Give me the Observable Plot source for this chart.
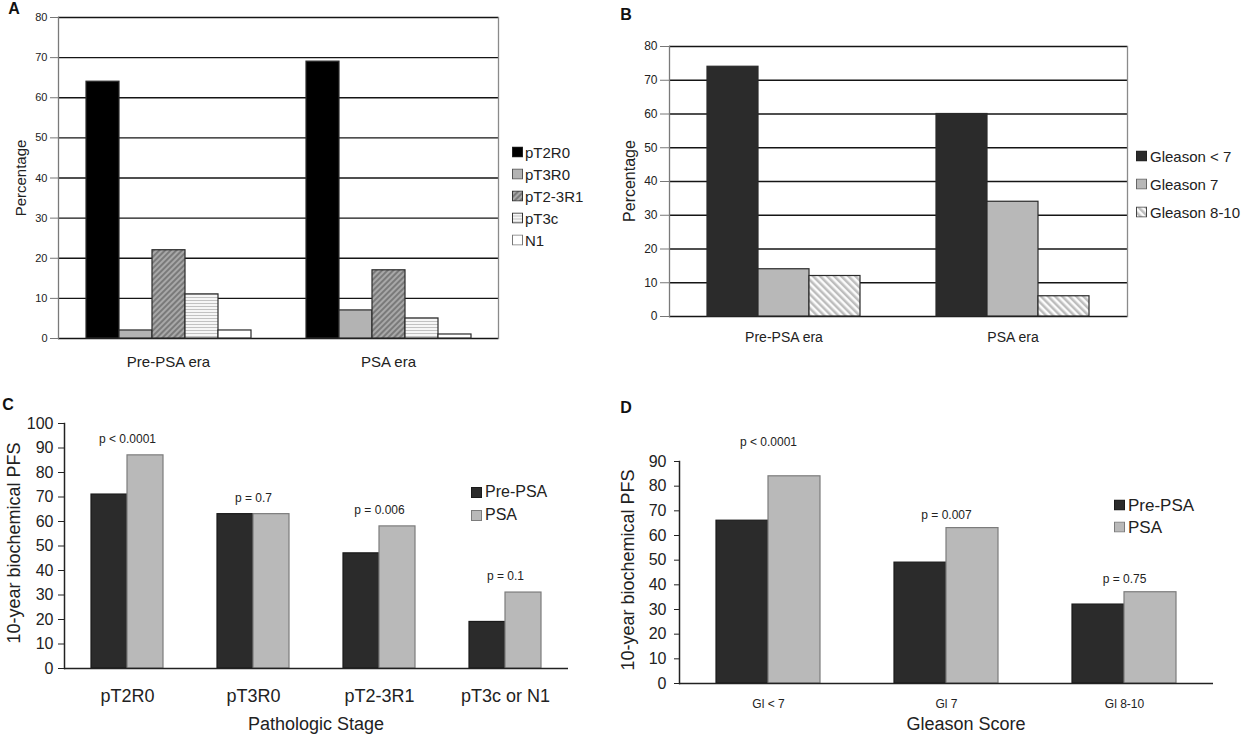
<!DOCTYPE html>
<html><head><meta charset="utf-8">
<script src="https://cdn.jsdelivr.net/npm/d3@7"></script>
<script src="https://cdn.jsdelivr.net/npm/@observablehq/plot@0.6"></script>
<style>
html,body{margin:0;padding:0;background:#fff;}
#root{position:relative;width:1246px;height:736px;overflow:hidden;font-family:"Liberation Sans",Arial,sans-serif;color:#222;}
.panel{position:absolute;}
.panel svg{display:block;background:transparent;}
.letter{position:absolute;font-weight:bold;line-height:1;transform:translate(-50%,-50%);color:#111;}
.ytitle{position:absolute;white-space:nowrap;line-height:1;transform:translate(-50%,-50%) rotate(-90deg);}
.xtitle{position:absolute;white-space:nowrap;line-height:1;transform:translate(-50%,-50%);}
.legend-item{position:absolute;display:flex;align-items:center;white-space:nowrap;line-height:1;transform:translateY(-50%);}
.legend-item svg{display:block;flex:none;}
</style></head>
<body>
<svg width="0" height="0" style="position:absolute">
<defs>
<pattern id="hatchDiagDark" width="4" height="4" patternUnits="userSpaceOnUse" patternTransform="rotate(45)">
<rect width="4" height="4" fill="#a8a8a8"/><rect width="2" height="4" fill="#7a7a7a"/>
</pattern>
<pattern id="hatchHoriz" width="4" height="3" patternUnits="userSpaceOnUse">
<rect width="4" height="3" fill="#f6f6f6"/><rect width="4" height="1" fill="#c2c2c2"/>
</pattern>
<pattern id="hatchDiagLight" width="5" height="5" patternUnits="userSpaceOnUse" patternTransform="rotate(-45)">
<rect width="5" height="5" fill="#fbfbfb"/><rect width="2.5" height="5" fill="#bdbdbd"/>
</pattern>
</defs></svg>
<div id="root"></div>
<script>
// ---------- data ----------
const eraLabels = ["Pre-PSA era", "PSA era"];

// Panel A: pathologic stage distribution (%)
const stageSeries = ["pT2R0", "pT3R0", "pT2-3R1", "pT3c", "N1"];
const stagePrePSA = [64, 2, 22, 11, 2];
const stagePSA = [69, 7, 17, 5, 1];
const ticksA = [0, 10, 20, 30, 40, 50, 60, 70, 80];

// Panel B: Gleason distribution (%)
const gleasonSeries = ["Gleason < 7", "Gleason 7", "Gleason 8-10"];
const gleasonPrePSA = [74, 14, 12];
const gleasonPSA = [60, 34, 6];
const ticksB = [0, 10, 20, 30, 40, 50, 60, 70, 80];

// Panel C: 10-year biochemical PFS by pathologic stage
const pfsSeries = ["Pre-PSA", "PSA"];
const pathStages = ["pT2R0", "pT3R0", "pT2-3R1", "pT3c or N1"];
const pfsStagePre = [71, 63, 47, 19];
const pfsStagePSA = [87, 63, 58, 31];
const pStage = ["p < 0.0001", "p = 0.7", "p = 0.006", "p = 0.1"];
const ticksC = [0, 10, 20, 30, 40, 50, 60, 70, 80, 90, 100];

// Panel D: 10-year biochemical PFS by Gleason score
const gleasonScores = ["Gl < 7", "Gl 7", "Gl 8-10"];
const pfsGleasonPre = [66, 49, 32];
const pfsGleasonPSA = [84, 63, 37];
const pGleason = ["p < 0.0001", "p = 0.007", "p = 0.75"];
const ticksD = [0, 10, 20, 30, 40, 50, 60, 70, 80, 90];

// ---------- styling ----------
const FONT = '"Liberation Sans", Arial, sans-serif';
const fillsA = ["#000000", "#b3b3b3", "url(#hatchDiagDark)", "url(#hatchHoriz)", "#ffffff"];
const fillsB = ["#2b2b2b", "#b8b8b8", "url(#hatchDiagLight)"];
const fillsPFS = ["#2b2b2b", "#b9b9b9"];
const strokesPFS = ["#1a1a1a", "#7c7c7c"];

const root = document.getElementById("root");

function place(node, left, top, width) {
  const div = document.createElement("div");
  div.className = "panel";
  div.style.left = left + "px";
  div.style.top = top + "px";
  div.style.width = width + "px";
  div.appendChild(node);
  root.appendChild(div);
}
function html(cls, text, x, y, size, extra = "") {
  const d = document.createElement("div");
  d.className = cls;
  d.textContent = text;
  d.style.left = x + "px";
  d.style.top = y + "px";
  d.style.fontSize = size + "px";
  if (extra) d.style.cssText += extra;
  root.appendChild(d);
}
function legend(names, fills, strokes, x, ys, sw, size, gap) {
  names.forEach((name, i) => {
    const d = document.createElement("div");
    d.className = "legend-item";
    d.style.left = x + "px";
    d.style.top = ys[i] + "px";
    d.style.fontSize = size + "px";
    const ns = "http://www.w3.org/2000/svg";
    const s = document.createElementNS(ns, "svg");
    s.setAttribute("width", sw);
    s.setAttribute("height", sw);
    const r = document.createElementNS(ns, "rect");
    r.setAttribute("x", 0.5); r.setAttribute("y", 0.5);
    r.setAttribute("width", sw - 1); r.setAttribute("height", sw - 1);
    r.setAttribute("fill", fills[i]);
    r.setAttribute("stroke", strokes[i]);
    s.appendChild(r);
    const t = document.createElement("span");
    t.textContent = name;
    t.style.marginLeft = gap + "px";
    d.appendChild(s); d.appendChild(t);
    root.appendChild(d);
  });
}

// ---------- Panel A ----------
const rowsA = eraLabels.flatMap((era, j) =>
  stageSeries.map((s, i) => ({group: era, series: s, value: [stagePrePSA, stagePSA][j][i]})));
place(Plot.plot({
  width: 505, height: 380,
  marginLeft: 57, marginRight: 7, marginTop: 17, marginBottom: 42,
  style: {fontFamily: FONT, color: "#222", background: "transparent"},
  fx: {domain: eraLabels, padding: 0, label: null},
  x: {domain: stageSeries, paddingInner: 0, paddingOuter: 0.74, axis: null},
  y: {domain: [0, 80]},
  color: {type: "ordinal", domain: stageSeries, range: fillsA},
  marks: [
    Plot.gridY({ticks: ticksA, stroke: "#151515", strokeOpacity: 1, strokeWidth: 1.3}),
    Plot.frame({anchor: "left", facetAnchor: "left", stroke: "#7a7a7a", strokeWidth: 1.3}),
    Plot.frame({anchor: "right", facetAnchor: "right", stroke: "#8a8a8a", strokeWidth: 1.3}),
    Plot.barY(rowsA, {fx: "group", x: "series", y: "value", fill: "series", stroke: "#2a2a2a", strokeWidth: 1.2}),
    Plot.axisY({ticks: ticksA, tickSize: 8, tickPadding: 3, fontSize: 11, label: null, stroke: "#777", fill: "#222"}),
    Plot.axisFx({anchor: "bottom", tickSize: 0, tickPadding: 18, fontSize: 15, label: null, fill: "#222"})
  ]
}), 0, 0, 505);

// ---------- Panel B ----------
const rowsB = eraLabels.flatMap((era, j) =>
  gleasonSeries.map((s, i) => ({group: era, series: s, value: [gleasonPrePSA, gleasonPSA][j][i]})));
place(Plot.plot({
  width: 512, height: 380,
  marginLeft: 49, marginRight: 5, marginTop: 46, marginBottom: 64,
  style: {fontFamily: FONT, color: "#222", background: "transparent"},
  fx: {domain: eraLabels, padding: 0, label: null},
  x: {domain: gleasonSeries, paddingInner: 0, paddingOuter: 0.745, axis: null},
  y: {domain: [0, 80]},
  color: {type: "ordinal", domain: gleasonSeries, range: fillsB},
  marks: [
    Plot.gridY({ticks: ticksB, stroke: "#151515", strokeOpacity: 1, strokeWidth: 1.3}),
    Plot.frame({anchor: "left", facetAnchor: "left", stroke: "#7a7a7a", strokeWidth: 1.3}),
    Plot.frame({anchor: "right", facetAnchor: "right", stroke: "#8a8a8a", strokeWidth: 1.3}),
    Plot.barY(rowsB, {fx: "group", x: "series", y: "value", fill: "series", stroke: "#2a2a2a", strokeWidth: 1.2}),
    Plot.axisY({ticks: ticksB, tickSize: 9, tickPadding: 3, fontSize: 12, label: null, stroke: "#777", fill: "#222"}),
    Plot.axisFx({anchor: "bottom", tickSize: 0, tickPadding: 16, fontSize: 14, label: null, fill: "#222"})
  ]
}), 620, 0, 512);

// ---------- Panel C ----------
const rowsC = pathStages.flatMap((g, j) =>
  pfsSeries.map((s, i) => ({group: g, series: s, value: [pfsStagePre, pfsStagePSA][i][j]})));
const pRowsC = pathStages.map((g, j) => ({group: g, top: Math.max(pfsStagePre[j], pfsStagePSA[j]), p: pStage[j]}));
place(Plot.plot({
  width: 580, height: 356,
  marginLeft: 64, marginRight: 12, marginTop: 43, marginBottom: 68,
  style: {fontFamily: FONT, color: "#222", background: "transparent"},
  fx: {domain: pathStages, padding: 0, label: null},
  x: {domain: pfsSeries, paddingInner: 0, paddingOuter: 0.73, axis: null},
  y: {domain: [0, 100]},
  color: {type: "ordinal", domain: pfsSeries, range: fillsPFS},
  marks: [
    ...pfsSeries.map((s, i) => Plot.barY(rowsC, {filter: d => d.series === s, fx: "group", x: "series", y: "value", fill: "series", stroke: strokesPFS[i], strokeWidth: 1.2})),
    Plot.ruleY([0], {stroke: "#222", strokeWidth: 1.5}),
    Plot.frame({anchor: "left", facetAnchor: "left", stroke: "#222", strokeWidth: 1.5}),
    Plot.text(pRowsC, {fx: "group", y: "top", text: "p", dy: -16, fontSize: 12, fill: "#222"}),
    Plot.axisY({ticks: ticksC, tickSize: 6, tickPadding: 5, fontSize: 16, label: null, stroke: "#222", fill: "#222"}),
    Plot.axisFx({anchor: "bottom", tickSize: 0, tickPadding: 21, fontSize: 18, label: null, fill: "#222"})
  ]
}), 0, 380, 580);

// ---------- Panel D ----------
const rowsD = gleasonScores.flatMap((g, j) =>
  pfsSeries.map((s, i) => ({group: g, series: s, value: [pfsGleasonPre, pfsGleasonPSA][i][j]})));
const pRowsD = gleasonScores.map((g, j) => ({group: g, top: Math.max(pfsGleasonPre[j], pfsGleasonPSA[j]), p: pGleason[j]}));
place(Plot.plot({
  width: 600, height: 356,
  marginLeft: 59, marginRight: 7, marginTop: 81, marginBottom: 53,
  style: {fontFamily: FONT, color: "#222", background: "transparent"},
  fx: {domain: gleasonScores, padding: 0, label: null},
  x: {domain: pfsSeries, paddingInner: 0, paddingOuter: 0.71, axis: null},
  y: {domain: [0, 90]},
  color: {type: "ordinal", domain: pfsSeries, range: fillsPFS},
  marks: [
    ...pfsSeries.map((s, i) => Plot.barY(rowsD, {filter: d => d.series === s, fx: "group", x: "series", y: "value", fill: "series", stroke: strokesPFS[i], strokeWidth: 1.2})),
    Plot.ruleY([0], {stroke: "#222", strokeWidth: 1.5}),
    Plot.frame({anchor: "left", facetAnchor: "left", stroke: "#222", strokeWidth: 1.5}),
    Plot.text(pRowsD, {filter: (d, i) => i === 0, fx: "group", y: "top", text: "p", dy: -34, fontSize: 12, fill: "#222"}),
    Plot.text(pRowsD, {filter: (d, i) => i > 0, fx: "group", y: "top", text: "p", dy: -13, fontSize: 12, fill: "#222"}),
    Plot.axisY({ticks: ticksD, tickSize: 5, tickPadding: 8, fontSize: 16, label: null, stroke: "#222", fill: "#222"}),
    Plot.axisFx({anchor: "bottom", tickSize: 0, tickPadding: 16, fontSize: 12, label: null, fill: "#222"})
  ]
}), 620, 380, 600);

// ---------- titles, letters, legends ----------
html("letter", "A", 14, 9, 16);
html("letter", "B", 626, 15, 16);
html("letter", "C", 8, 405, 16);
html("letter", "D", 626, 408, 16);

html("ytitle", "Percentage", 20, 178, 15);
html("ytitle", "Percentage", 630, 181, 16);
html("ytitle", "10-year biochemical PFS", 14, 543, 18);
html("ytitle", "10-year biochemical PFS", 628, 570, 18);

html("xtitle", "Pathologic Stage", 316, 724, 18);
html("xtitle", "Gleason Score", 966, 724, 18);

legend(stageSeries, fillsA, ["#222", "#555", "#333", "#333", "#777"], 512, [152, 174, 196, 218, 240], 11, 15, 2);
legend(gleasonSeries, fillsB, ["#222", "#666", "#444"], 1136, [156, 184, 212], 11, 15, 3);
legend(pfsSeries, fillsPFS, strokesPFS, 471, [492, 515], 11, 16, 3);
legend(pfsSeries, fillsPFS, strokesPFS, 1114, [505, 527], 11, 17, 3);
</script>
</body></html>
